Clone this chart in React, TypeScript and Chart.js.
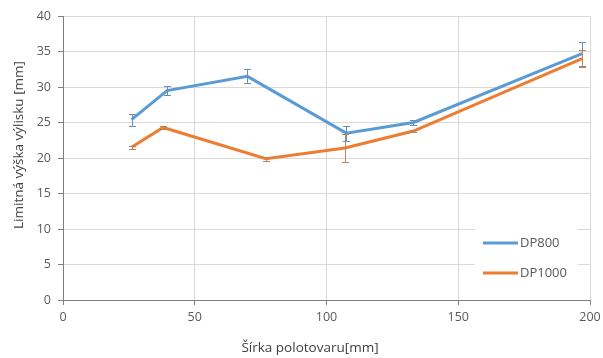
import React, { useEffect, useRef } from "react";
import { Chart, registerables } from "chart.js";

Chart.register(...registerables);

const seriesNames = ["DP800", "DP1000"];
const dp800X = [26, 39.5, 70, 107.5, 133, 197];
const dp800Y = [25.4, 29.5, 31.5, 23.5, 25.0, 34.7];
const dp800Err = [0.85, 0.6, 1.0, 1.05, 0.4, 1.7];
const dp1000X = [26, 38, 77, 107, 133, 197];
const dp1000Y = [21.5, 24.3, 19.9, 21.4, 23.8, 34.0];
const dp1000Err = [0.2, 0.15, 0.3, 1.95, 0.2, 1.2];
const xTicks = [0, 50, 100, 150, 200];
const yTicks = [0, 5, 10, 15, 20, 25, 30, 35, 40];
const xTitle = "Šírka polotovaru[mm]";
const yTitle = "Limitná výška výlisku [mm]";

const BLUE = "#5B9BD5";
const ORANGE = "#ED7D31";
const TEXT = "#595959";
const TITLE = "#404040";
const FONT = "'Open Sans', sans-serif";

const errs = [dp800Err, dp1000Err];
const errColors = ["#6a8fb5", "#b8855a"];

const errorBarPlugin = {
  id: "errorBars",
  afterDatasetsDraw(chart: any) {
    const ctx = chart.ctx;
    const xs = chart.scales.x;
    const ys = chart.scales.y;
    chart.data.datasets.forEach((ds: any, i: number) => {
      const e = errs[i];
      ctx.save();
      ctx.strokeStyle = errColors[i];
      ctx.lineWidth = 1;
      ds.data.forEach((p: any, j: number) => {
        const px = Math.round(xs.getPixelForValue(p.x)) + 0.5;
        const top = Math.round(ys.getPixelForValue(p.y + e[j])) + 0.5;
        const bot = Math.round(ys.getPixelForValue(p.y - e[j])) + 0.5;
        ctx.beginPath();
        ctx.moveTo(px, top);
        ctx.lineTo(px, bot);
        ctx.moveTo(px - 3.5, top);
        ctx.lineTo(px + 3.5, top);
        ctx.moveTo(px - 3.5, bot);
        ctx.lineTo(px + 3.5, bot);
        ctx.stroke();
      });
      ctx.restore();
    });
  },
};

const overlayPlugin = {
  id: "overlay",
  afterDraw(chart: any) {
    const ctx = chart.ctx;
    const area = chart.chartArea;
    // legend inside plot area
    const boxRight = area.right - 12;
    const boxLeft = boxRight - 103;
    const boxTop = area.bottom - 78;
    const boxBottom = area.bottom - 8;
    ctx.save();
    ctx.fillStyle = "#ffffff";
    ctx.fillRect(boxLeft, boxTop, boxRight - boxLeft, boxBottom - boxTop);
    const colors = [BLUE, ORANGE];
    ctx.font = `13px ${FONT}`;
    ctx.textBaseline = "middle";
    ctx.textAlign = "left";
    seriesNames.forEach((name, i) => {
      const y = boxTop + 21 + i * 30;
      ctx.strokeStyle = colors[i];
      ctx.lineWidth = 3;
      ctx.beginPath();
      ctx.moveTo(boxLeft + 8, y);
      ctx.lineTo(boxLeft + 43, y);
      ctx.stroke();
      ctx.fillStyle = TEXT;
      ctx.fillText(name, boxLeft + 45, y);
    });
    // axis titles
    ctx.fillStyle = TITLE;
    ctx.font = `13.5px ${FONT}`;
    ctx.textAlign = "center";
    ctx.textBaseline = "middle";
    ctx.fillText(xTitle, 310, 348);
    ctx.translate(19, 145);
    ctx.rotate(-Math.PI / 2);
    ctx.fillText(yTitle, 0, 0);
    ctx.restore();
  },
};

export default function App() {
  const ref = useRef<HTMLCanvasElement | null>(null);
  useEffect(() => {
    document.body.style.margin = "0";
    if (!ref.current) return;
    const chart = new Chart(ref.current, {
      type: "line",
      data: {
        datasets: [
          {
            label: seriesNames[0],
            data: dp800X.map((x, i) => ({ x, y: dp800Y[i] })),
            borderColor: BLUE,
            backgroundColor: BLUE,
            borderWidth: 3,
            pointRadius: 0,
            tension: 0,
          },
          {
            label: seriesNames[1],
            data: dp1000X.map((x, i) => ({ x, y: dp1000Y[i] })),
            borderColor: ORANGE,
            backgroundColor: ORANGE,
            borderWidth: 3,
            pointRadius: 0,
            tension: 0,
          },
        ],
      },
      options: {
        animation: false,
        responsive: false,
        layout: { padding: { top: 16, right: 13, left: 0, bottom: 0 } },
        plugins: {
          legend: { display: false },
          tooltip: { enabled: false },
        },
        scales: {
          x: {
            type: "linear",
            min: 0,
            max: 200,
            afterBuildTicks: (s: any) => {
              s.ticks = xTicks.map((v) => ({ value: v }));
            },
            afterFit: (s: any) => {
              s.height = 58;
              s.paddingRight = 0;
              s.paddingLeft = 0;
            },
            ticks: { color: TEXT, font: { family: FONT, size: 12.5 }, padding: 5 },
            grid: { color: "#d9d9d9", tickColor: "#7f7f7f", tickLength: 5 },
            border: { display: true, color: "#7f7f7f" },
          },
          y: {
            type: "linear",
            min: 0,
            max: 40,
            afterBuildTicks: (s: any) => {
              s.ticks = yTicks.map((v) => ({ value: v }));
            },
            afterFit: (s: any) => {
              s.width = 63;
              s.paddingTop = 0;
              s.paddingBottom = 0;
            },
            ticks: { color: TEXT, font: { family: FONT, size: 12.5 }, padding: 7 },
            grid: { color: "#d9d9d9", tickColor: "#7f7f7f", tickLength: 5 },
            border: { display: true, color: "#7f7f7f" },
          },
        },
      },
      plugins: [errorBarPlugin, overlayPlugin],
    } as any);
    return () => chart.destroy();
  }, []);
  return (
    <div style={{ width: 603, height: 358 }}>
      <canvas ref={ref} width={603} height={358} style={{ width: 603, height: 358 }} />
    </div>
  );
}
